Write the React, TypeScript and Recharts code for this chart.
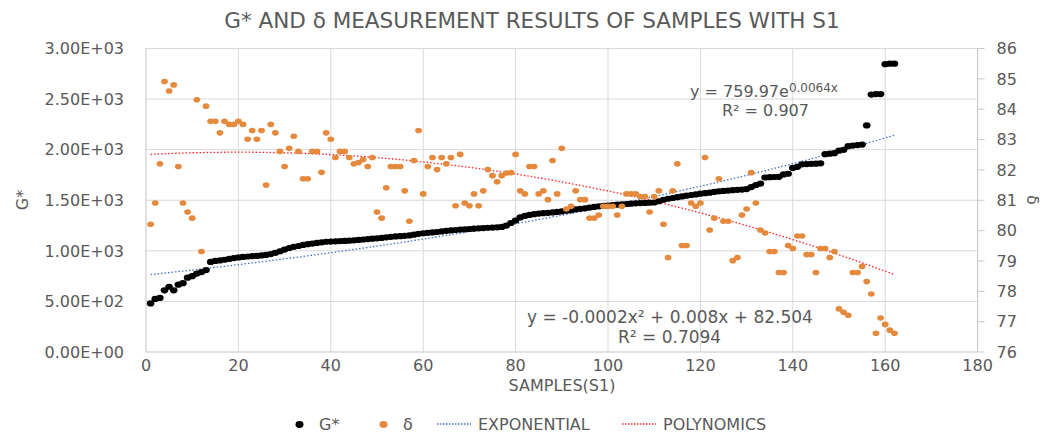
import React from "react";
import {
  ComposedChart,
  Scatter,
  Line,
  XAxis,
  YAxis,
  CartesianGrid,
  Legend,
} from "recharts";

// G* per sample (samples 1..162)
const gStar = [
  480, 525, 535, 610, 645, 610, 665, 680, 735, 750,
  775, 790, 810, 890, 900, 905, 912, 920, 928, 935,
  940, 944, 948, 950, 955, 960, 968, 980, 995, 1012,
  1028, 1040, 1048, 1058, 1066, 1072, 1078, 1084, 1090, 1092,
  1094, 1096, 1098, 1100, 1104, 1108, 1112, 1116, 1120, 1124,
  1128, 1134, 1138, 1142, 1145, 1148, 1152, 1160, 1168, 1174,
  1178, 1182, 1186, 1192, 1198, 1202, 1206, 1210, 1213, 1216,
  1219, 1222, 1225, 1228, 1230, 1232, 1236, 1250, 1275, 1300,
  1330, 1345, 1355, 1362, 1368, 1372, 1376, 1380, 1385, 1390,
  1396, 1402, 1410, 1415, 1420, 1428, 1434, 1440, 1445, 1448,
  1452, 1456, 1460, 1463, 1466, 1470, 1472, 1474, 1476, 1478,
  1490, 1505, 1515, 1522, 1530, 1538, 1545, 1552, 1558, 1565,
  1570, 1575, 1582, 1588, 1592, 1596, 1600, 1603, 1606, 1610,
  1630, 1650, 1665, 1725, 1728, 1730, 1732, 1755, 1762, 1820,
  1830, 1855, 1858, 1860, 1862, 1865, 1955, 1960, 1965, 1990,
  1998, 2035, 2040, 2045, 2050, 2240, 2545, 2550, 2550, 2845,
  2850, 2850,
];

// δ per sample (samples 1..162)
const delta = [
  80.21, 80.91, 82.2, 84.91, 84.6, 84.8, 82.11, 80.91, 80.61, 80.41,
  84.31, 79.31, 84.1, 83.6, 83.6, 83.22, 83.6, 83.5, 83.5, 83.6,
  83.5, 83.01, 83.3, 83.01, 83.3, 81.5, 83.5, 83.22, 82.61, 82.11,
  82.71, 83.11, 82.61, 81.71, 81.71, 82.61, 82.61, 81.92, 83.22, 83.01,
  82.41, 82.61, 82.61, 82.41, 82.2, 82.24, 82.34, 82.11, 82.41, 80.61,
  80.41, 81.41, 82.11, 82.11, 82.11, 81.31, 80.31, 82.31, 83.3, 81.21,
  82.11, 82.41, 82.01, 82.41, 82.2, 82.41, 80.82, 82.51, 80.91, 80.82,
  81.21, 80.82, 81.31, 82.01, 81.81, 81.61, 81.81, 81.9, 81.91, 82.51,
  81.31, 81.21, 82.11, 82.11, 81.21, 81.31, 81.02, 82.31, 81.21, 82.71,
  80.71, 80.8, 81.31, 81.02, 81.02, 80.41, 80.41, 80.51, 80.8, 80.8,
  80.8, 80.51, 80.8, 81.21, 81.21, 81.21, 81.12, 81.12, 80.61, 81.12,
  81.31, 80.21, 79.11, 81.31, 82.2, 79.51, 79.51, 80.91, 80.8, 80.91,
  82.41, 80.02, 80.41, 81.71, 80.31, 80.31, 79.01, 79.11, 80.51, 80.71,
  81.91, 80.91, 80.02, 79.92, 79.31, 79.31, 78.62, 78.62, 79.51, 79.41,
  79.82, 79.82, 79.21, 79.21, 78.62, 79.41, 79.41, 79.11, 79.31, 77.42,
  77.31, 77.21, 78.62, 78.62, 78.82, 78.32, 77.91, 76.62, 77.12, 76.91,
  76.72, 76.62,
];

const xTicks = [0, 20, 40, 60, 80, 100, 120, 140, 160, 180];
const gTicks = [0, 500, 1000, 1500, 2000, 2500, 3000];
const deltaTicks = [76, 77, 78, 79, 80, 81, 82, 83, 84, 85, 86];

// trendline coefficients (shown in the annotations)
const EXP_A = 759.97;
const EXP_B = 0.0064;
const POLY_A = -0.0002;
const POLY_B = 0.008;
const POLY_C = 82.504;

const rows = gStar.map((g, i) => {
  const x = i + 1;
  return {
    x,
    g,
    d: delta[i],
    expFit: EXP_A * Math.exp(EXP_B * x),
    polyFit: POLY_A * x * x + POLY_B * x + POLY_C,
  };
});

const FONT = "'DejaVu Sans', sans-serif";
const TEXT = "#595959";
const GRID = "#d9d9d9";
const ORANGE = "#e58a3d";
const BLUE = "#4472c4";
const RED = "#ff2020";

// Excel-style scientific labels: 2.50E+03
function sci(v: number): string {
  const [m, e] = v.toExponential(2).split("e");
  const n = Number(e);
  const sign = n < 0 ? "-" : "+";
  return `${m}E${sign}${String(Math.abs(n)).padStart(2, "0")}`;
}

const dotShape = (fill: string, rx: number, ry: number) => (props: any) =>
  props.cx == null ? <g /> : (
    <ellipse cx={props.cx} cy={props.cy} rx={rx} ry={ry} fill={fill} />
  );

const legendItems = [
  { kind: "dot", color: "#000", label: "G*", left: 295 },
  { kind: "dot", color: ORANGE, label: "δ", left: 379 },
  { kind: "line", color: BLUE, label: "EXPONENTIAL", left: 437 },
  { kind: "line", color: RED, label: "POLYNOMICS", left: 622 },
];

function LegendRow() {
  return (
    <div style={{ position: "relative", width: 1045, height: 18, fontFamily: FONT, fontSize: 16, color: TEXT }}>
      {legendItems.map((it) => (
        <div
          key={it.label}
          style={{ position: "absolute", left: it.left, top: 0, height: 18, display: "flex", alignItems: "center", gap: 7 }}
        >
          {it.kind === "dot" ? (
            <svg width={9} height={9}>
              <ellipse cx={4.5} cy={4.5} rx={4} ry={3.4} fill={it.color} />
            </svg>
          ) : (
            <svg width={34} height={4}>
              <line x1={0} y1={2} x2={34} y2={2} stroke={it.color} strokeWidth={1.5} strokeDasharray="1.5 1.5" />
            </svg>
          )}
          <span style={{ marginLeft: it.kind === "dot" ? 8 : 0 }}>{it.label}</span>
        </div>
      ))}
    </div>
  );
}

export default function App() {
  return (
    <div style={{ position: "absolute", left: 0, top: 0, width: 1045, height: 433, background: "#fff" }}>
      <ComposedChart
        width={1045}
        height={433}
        data={rows}
        margin={{ top: 48.5, right: 17.4, bottom: 0, left: 30 }}
      >
        <CartesianGrid yAxisId="left" stroke={GRID} strokeWidth={1} />
        <XAxis
          dataKey="x"
          type="number"
          domain={[0, 180]}
          ticks={xTicks}
          height={63}
          tickLine={false}
          tickSize={0}
          tickMargin={8}
          axisLine={{ stroke: GRID }}
          tick={{ fontSize: 16, fill: TEXT, fontFamily: FONT }}
        />
        <YAxis
          yAxisId="left"
          domain={[0, 3000]}
          ticks={gTicks}
          width={116}
          tickLine={false}
          tickSize={0}
          tickMargin={22}
          tickFormatter={sci}
          axisLine={{ stroke: GRID }}
          tick={{ fontSize: 16, fill: TEXT, fontFamily: FONT }}
        />
        <YAxis
          yAxisId="right"
          orientation="right"
          domain={[76, 86]}
          ticks={deltaTicks}
          width={50}
          tickSize={7}
          tickMargin={12}
          tickLine={{ stroke: "#c8c8c8" }}
          axisLine={{ stroke: "#c8c8c8" }}
          tick={{ fontSize: 16, fill: TEXT, fontFamily: FONT }}
        />
        <Legend verticalAlign="bottom" height={18} wrapperStyle={{ left: 0, width: 1045 }} content={() => <LegendRow />} />
        <Scatter yAxisId="left" name="G*" dataKey="g" fill="#000" shape={dotShape("#000", 3.8, 3.1)} isAnimationActive={false} />
        <Scatter yAxisId="right" name="δ" dataKey="d" fill={ORANGE} shape={dotShape(ORANGE, 3.4, 2.8)} isAnimationActive={false} />
        <Line
          yAxisId="left"
          name="EXPONENTIAL"
          dataKey="expFit"
          stroke={BLUE}
          strokeWidth={1.3}
          strokeDasharray="1.5 2"
          dot={false}
          activeDot={false}
          isAnimationActive={false}
        />
        <Line
          yAxisId="right"
          name="POLYNOMICS"
          dataKey="polyFit"
          stroke={RED}
          strokeWidth={1.3}
          strokeDasharray="1.5 2"
          dot={false}
          activeDot={false}
          isAnimationActive={false}
        />
      </ComposedChart>
      <svg
        width={1045}
        height={433}
        style={{ position: "absolute", left: 0, top: 0, pointerEvents: "none" }}
        fontFamily={FONT}
        fill={TEXT}
      >
        <text x={532} y={28} fontSize={21.5} textAnchor="middle">
          G* AND δ MEASUREMENT RESULTS OF SAMPLES WITH S1
        </text>
        <text x={562} y={391} fontSize={16} textAnchor="middle">SAMPLES(S1)</text>
        <text x={0} y={0} fontSize={16} textAnchor="middle" transform="translate(28 200) rotate(-90)">G*</text>
        <text x={0} y={0} fontSize={16} textAnchor="middle" transform="translate(1027 200) rotate(90)">δ</text>
        <text x={690} y={97} fontSize={16}>
          y = 759.97e<tspan fontSize={12} dy={-5}>0.0064x</tspan>
        </text>
        <text x={722} y={116} fontSize={16}>R² = 0.907</text>
        <text x={527} y={323} fontSize={17}>y = -0.0002x² + 0.008x + 82.504</text>
        <text x={618} y={343} fontSize={17}>R² = 0.7094</text>
      </svg>
    </div>
  );
}
